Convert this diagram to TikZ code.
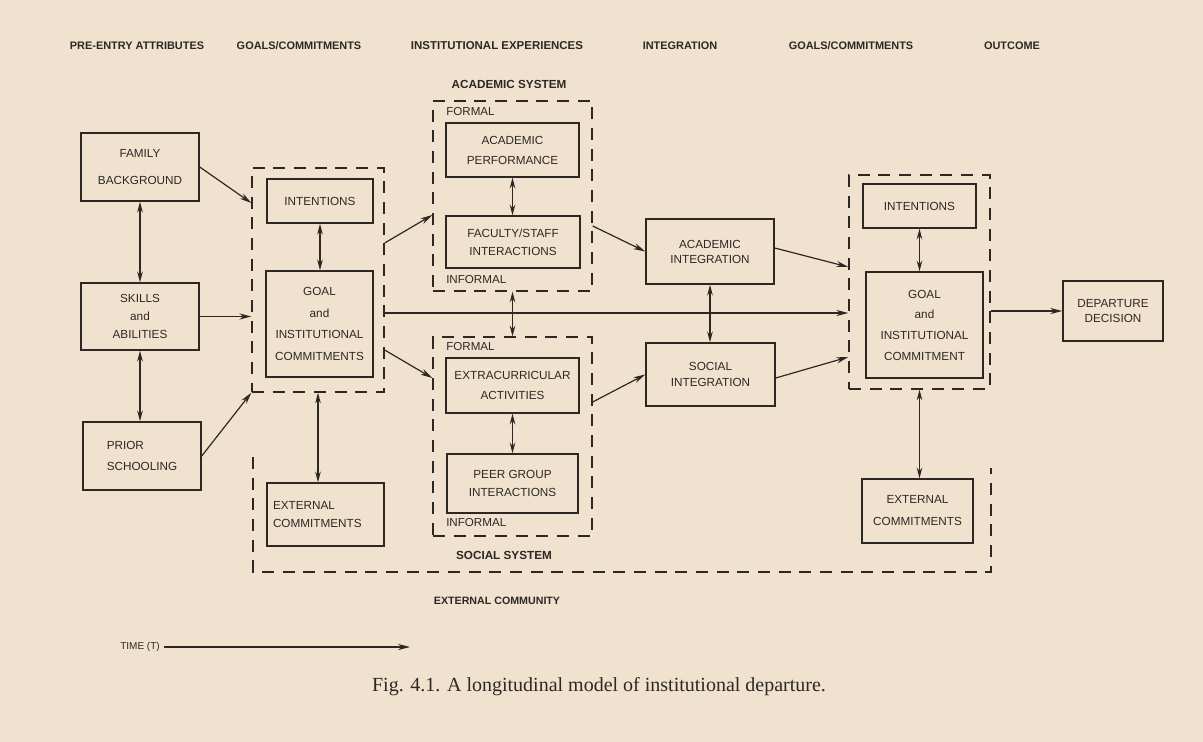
\documentclass[tikz,border=0pt]{standalone}
\usepackage{fontspec}
\setmainfont{Liberation Serif}
\setsansfont{Liberation Sans}
\usetikzlibrary{arrows.meta}
\definecolor{paper}{RGB}{240,226,206}
\definecolor{ink}{RGB}{45,40,36}
\begin{document}
\begin{tikzpicture}[x=0.75pt,y=-0.75pt,
  box/.style={draw=ink, line width=1.1pt, inner sep=0pt, align=center, text=ink,
    font=\sffamily\fontsize{8.8}{14}\selectfont},
  ls/.style={font=\sffamily\fontsize{8.8}{#1}\selectfont},
  bx/.style n args={4}{minimum width={(#3-#1)*0.75pt}, minimum height={(#4-#2)*0.75pt},
    at={({(#1+#3)/2},{(#2+#4)/2})}},
  dbox/.style={draw=ink, line width=1pt, dash pattern=on 9pt off 6.5pt, inner sep=0pt},
  dline/.style={draw=ink, line width=1pt, dash pattern=on 9pt off 6.5pt},
  arr/.style={draw=ink, line width=0.9pt, -{Stealth[length=9pt,width=4.6pt]}},
  darr/.style={draw=ink, line width=0.9pt, {Stealth[length=8pt,width=4.2pt]}-{Stealth[length=8pt,width=4.2pt]}},
  head/.style={text=ink, inner sep=0pt, font=\sffamily\bfseries\fontsize{8.2}{10}\selectfont},
  lab/.style={text=ink, inner sep=0pt, font=\sffamily\fontsize{8.7}{10}\selectfont},
  syslab/.style={text=ink, inner sep=0pt, font=\sffamily\bfseries\fontsize{8.8}{10}\selectfont}]
\fill[paper] (0,0) rectangle (1203,742);
\useasboundingbox (0,0) rectangle (1203,742);

% headers
\node[head] (h1) at (137,46) {PRE-ENTRY ATTRIBUTES};
\node[head] (h2) at (299,46) {GOALS/COMMITMENTS};
\node[head, font=\sffamily\bfseries\fontsize{8.6}{10}\selectfont] (h3) at (497,46) {INSTITUTIONAL EXPERIENCES};
\node[head] (h4) at (680,46) {INTEGRATION};
\node[head] (h5) at (851,46) {GOALS/COMMITMENTS};
\node[head] (h6) at (1012,46) {OUTCOME};

% pre-entry attributes
\node[box, bx={81}{133}{199}{201}, ls=20] (fam) {FAMILY\\BACKGROUND};
\node[box, bx={81}{283}{199}{350}, ls=13.5] (sk) {SKILLS\\and\\ABILITIES};
\node[box, bx={83}{422}{201}{490}, ls=15.8, align=left] (pr) {PRIOR\\SCHOOLING};

% goals / commitments (left)
\node[dbox, bx={252}{168}{384}{392}] (gl) {};
\node[box, bx={267}{179}{373}{223}] (li) {INTENTIONS};
\node[box, bx={266}{271}{373}{377}, ls=16.3] (lg) {GOAL\\and\\INSTITUTIONAL\\COMMITMENTS};
\node[box, bx={267}{483}{384}{546}, ls=13.5, align=left, text width={(384-267-12)*0.75pt}] (lec) {EXTERNAL\\COMMITMENTS};

% academic system
\node[syslab] (acl) at (509,84) {ACADEMIC SYSTEM};
\node[dbox, bx={433}{101}{592}{291}] (ac) {};
\node[lab, anchor=west] (f1) at (446,112) {FORMAL};
\node[box, bx={446}{123}{579}{177}, ls=15] (ap) {ACADEMIC\\PERFORMANCE};
\node[box, bx={446}{216}{580}{268}, ls=13.5] (fs) {FACULTY/STAFF\\INTERACTIONS};
\node[lab, anchor=west] (i1) at (446,280) {INFORMAL};

% social system
\node[dbox, bx={433}{337}{592}{536}] (so) {};
\node[lab, anchor=west] (f2) at (446,347) {FORMAL};
\node[box, bx={446}{358}{579}{413}, ls=15] (ex) {EXTRACURRICULAR\\ACTIVITIES};
\node[box, bx={447}{454}{578}{513}, ls=13.5] (pg) {PEER GROUP\\INTERACTIONS};
\node[lab, anchor=west] (i2) at (446,523) {INFORMAL};
\node[syslab] (sol) at (504,555) {SOCIAL SYSTEM};

% integration
\node[box, bx={646}{219}{774}{284}, ls=11.3] (ai) {ACADEMIC\\INTEGRATION};
\node[box, bx={646}{343}{775}{406}, ls=12] (si) {SOCIAL\\INTEGRATION};

% goals / commitments (right)
\node[dbox, bx={849}{175}{990}{389}] (rgb) {};
\node[box, bx={863}{184}{976}{228}] (ri) {INTENTIONS};
\node[box, bx={866}{272}{983}{378}, ls=15.5] (rg) {GOAL\\and\\INSTITUTIONAL\\COMMITMENT};
\node[box, bx={862}{479}{973}{543}, ls=16.5] (rec) {EXTERNAL\\COMMITMENTS};

% outcome
\node[box, bx={1063}{281}{1163}{341}, ls=11.3] (dd) {DEPARTURE\\DECISION};

% external community
\draw[dline] (253,457) -- (253,572) -- (991,572) -- (991,468);
\node[syslab, font=\sffamily\bfseries\fontsize{8}{10}\selectfont] (ecl) at (497,601) {EXTERNAL COMMUNITY};

% connectors
\draw[darr] (fam.south) -- (sk.north);
\draw[darr] (sk.south) -- (sk.south |- pr.north);
\draw[arr] (fam.east) -- (gl.west |- 0,203);
\draw[arr] (sk.east) -- (sk.east -| gl.west);
\draw[arr] (pr.east) -- (gl.south west);
\draw[darr] (li.south) -- (li.south |- lg.north);
\draw[darr] (gl.south) -- (gl.south |- lec.north);
\draw[arr] (gl.east |- 0,243) -- (ac.west |- 0,215);
\draw[arr] (gl.east |- 0,350) -- (so.west |- 0,378);
\draw[arr] (gl.east |- 0,313) -- (rgb.west |- 0,313);
\draw[darr] (ap.south) -- (ap.south |- fs.north);
\draw[darr] (ac.south) -- (ac.south |- so.north);
\draw[darr] (ex.south) -- (ex.south |- pg.north);
\draw[arr] (ac.east |- 0,226) -- (ai.west);
\draw[arr] (so.east |- 0,402) -- (si.west);
\draw[darr] (ai.south) -- (ai.south |- si.north);
\draw[arr] (ai.east |- 0,248) -- (rgb.west |- 0,267);
\draw[arr] (si.east |- 0,378) -- (rgb.west |- 0,357);
\draw[darr] (ri.south) -- (ri.south |- rg.north);
\draw[darr] (rgb.south) -- (rgb.south |- rec.north);
\draw[arr] (rgb.east |- dd.west) -- (dd.west);

% time axis and caption
\node[lab, font=\sffamily\fontsize{7.5}{9}\selectfont] (tm) at (140,647) {TIME (T)};
\coordinate (tend) at (410,647);
\draw[arr, line width=0.8pt] ([xshift=3pt]tm.east) -- (tend);
\node[text=ink, inner sep=0pt, font=\rmfamily\fontsize{15}{18}\selectfont] (cap) at (599,687) {Fig. 4.1. A longitudinal model of institutional departure.};
\end{tikzpicture}
\end{document}
